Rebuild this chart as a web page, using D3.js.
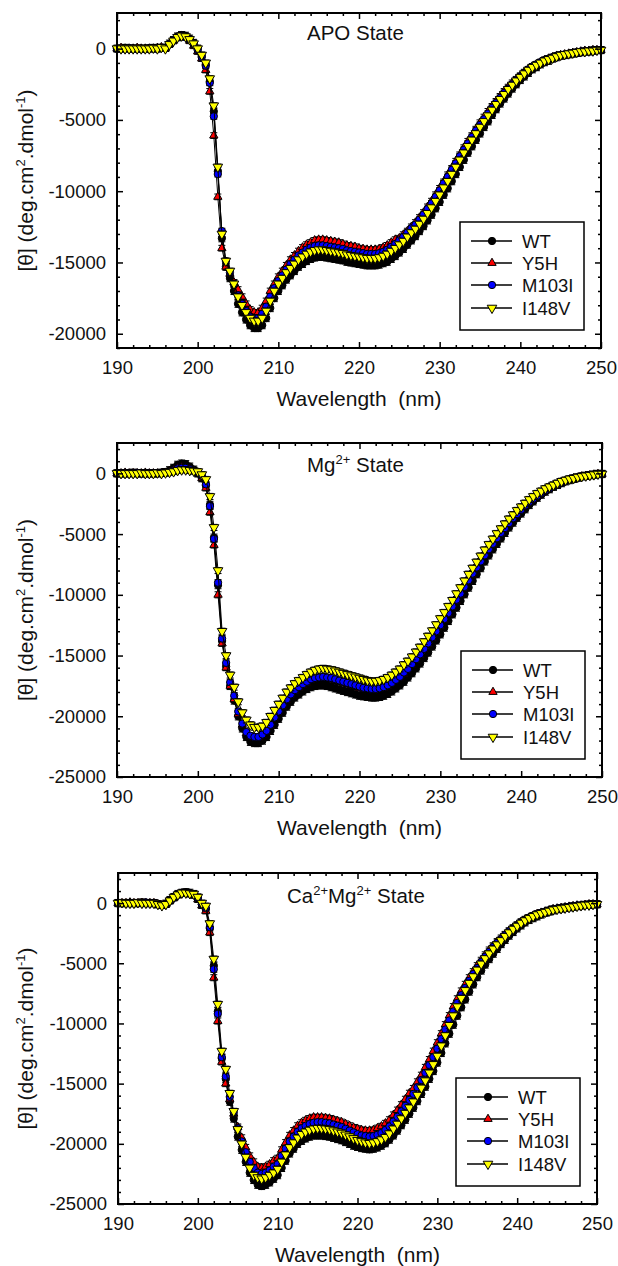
<!DOCTYPE html>
<html>
<head>
<meta charset="utf-8">
<script src="https://cdn.jsdelivr.net/npm/d3@7"></script>
<style>
  body { margin: 0; background: #fff; }
  svg { display: block; }
  text { font-family: "Liberation Sans", Arial, sans-serif; fill: #111; }
</style>
</head>
<body>
<div class="canvas"></div>
<script>
// wavelength grid of the CD scans (0.5 nm steps, 190-250 nm)
const wavelengths = d3.range(0, 121).map(i => 190 + i * 0.5);

const seriesNames = ['WT', 'Y5H', 'M103I', 'I148V'];
const seriesFills = ['#000000', '#ff0000', '#0000ff', '#ffff00'];

const xTicks = [190, 200, 210, 220, 230, 240, 250];
const yTicksApo = [0, -5000, -10000, -15000, -20000];
const yTicksMetal = [0, -5000, -10000, -15000, -20000, -25000];

// ---- APO state (deg.cm2.dmol-1) ----
const apoWT = [
  0,0,50,0,0,0,0,0,0,50,
  0,50,50,350,600,850,950,900,700,400,
  0,-500,-1100,-2300,-4400,-8600,-13300,-15300,-16100,-17000,
  -17900,-18500,-19000,-19400,-19600,-19600,-19400,-18900,-18200,-17500,
  -17000,-16600,-16200,-15900,-15600,-15300,-15100,-14900,-14750,-14650,
  -14600,-14600,-14650,-14700,-14750,-14800,-14850,-14950,-15000,-15050,
  -15100,-15150,-15200,-15200,-15200,-15150,-15050,-14950,-14750,-14550,
  -14300,-14050,-13750,-13450,-13150,-12800,-12450,-12050,-11650,-11200,
  -10750,-10250,-9800,-9300,-8800,-8300,-7800,-7300,-6850,-6400,
  -5950,-5500,-5100,-4650,-4250,-3850,-3500,-3150,-2800,-2500,
  -2200,-1950,-1700,-1450,-1300,-1100,-950,-850,-700,-600,
  -500,-450,-400,-350,-300,-250,-200,-200,-150,-100,
  -100];
const apoY5H = [
  0,50,0,0,0,50,0,0,0,0,
  50,100,0,300,550,750,850,800,550,200,
  -200,-700,-1500,-3000,-6100,-10400,-14000,-15300,-15800,-16400,
  -16900,-17400,-17900,-18300,-18500,-18500,-18200,-17700,-17000,-16500,
  -16000,-15600,-15200,-14800,-14500,-14200,-13950,-13750,-13600,-13450,
  -13400,-13400,-13450,-13500,-13550,-13600,-13700,-13800,-13850,-13900,
  -14000,-14050,-14100,-14100,-14100,-14050,-13950,-13800,-13600,-13400,
  -13300,-13050,-12800,-12500,-12200,-11850,-11500,-11100,-10700,-10250,
  -9800,-9350,-8850,-8400,-7900,-7450,-6950,-6500,-6100,-5650,
  -5200,-4800,-4400,-4050,-3700,-3350,-3000,-2700,-2400,-2150,
  -1900,-1650,-1450,-1250,-1100,-950,-800,-700,-600,-500,
  -450,-400,-350,-300,-250,-200,-150,-150,-100,-100,
  -100];
const apoM103I = [
  0,0,0,50,0,0,0,0,50,0,
  0,50,50,300,600,800,900,800,600,300,
  -100,-600,-1200,-2400,-4750,-8800,-12800,-14900,-15700,-16500,
  -17300,-17900,-18400,-18800,-18900,-18900,-18600,-18100,-17400,-16800,
  -16300,-15900,-15500,-15100,-14800,-14500,-14300,-14100,-13950,-13850,
  -13800,-13800,-13850,-13900,-13950,-14000,-14050,-14150,-14200,-14250,
  -14300,-14350,-14400,-14400,-14400,-14350,-14250,-14100,-13900,-13700,
  -13450,-13200,-12900,-12600,-12350,-12000,-11650,-11250,-10850,-10400,
  -9950,-9450,-9000,-8500,-8050,-7550,-7100,-6650,-6200,-5750,
  -5350,-4950,-4550,-4150,-3800,-3450,-3100,-2800,-2500,-2200,
  -1950,-1700,-1450,-1250,-1100,-950,-800,-700,-600,-500,
  -450,-400,-350,-300,-250,-200,-200,-150,-100,-100,
  -100];
const apoI148V = [
  0,0,0,0,0,0,0,0,0,50,
  0,100,0,300,550,800,900,850,650,350,
  0,-450,-1000,-2100,-4000,-8300,-13000,-14900,-15600,-16500,
  -17400,-18000,-18500,-18900,-19100,-19100,-18900,-18400,-17700,-17000,
  -16500,-16100,-15700,-15400,-15100,-14800,-14600,-14400,-14250,-14150,
  -14100,-14100,-14150,-14200,-14250,-14300,-14350,-14450,-14500,-14550,
  -14600,-14650,-14700,-14700,-14700,-14650,-14550,-14400,-14200,-14000,
  -13750,-13500,-13200,-12900,-12650,-12300,-11950,-11550,-11150,-10700,
  -10250,-9750,-9300,-8800,-8300,-7800,-7300,-6850,-6400,-5950,
  -5500,-5100,-4700,-4300,-3900,-3550,-3200,-2850,-2550,-2250,
  -2000,-1750,-1500,-1300,-1150,-1000,-850,-750,-650,-550,
  -450,-400,-350,-300,-250,-200,-200,-150,-150,-100,
  -100];

// ---- Mg2+ state ----
const mgWT = [
  0,0,0,0,50,0,0,0,0,0,
  0,50,100,250,450,700,800,750,550,300,
  0,-400,-1000,-2600,-5300,-9200,-13800,-15900,-17500,-18700,
  -20000,-21000,-21700,-22100,-22200,-22200,-22000,-21700,-21200,-20700,
  -20200,-19700,-19200,-18800,-18450,-18200,-17950,-17750,-17600,-17500,
  -17450,-17450,-17500,-17600,-17700,-17800,-17900,-18000,-18100,-18200,
  -18300,-18350,-18400,-18450,-18450,-18400,-18300,-18150,-17950,-17700,
  -17450,-17150,-16800,-16450,-16050,-15650,-15200,-14750,-14250,-13750,
  -13250,-12700,-12150,-11600,-11050,-10500,-9950,-9400,-8850,-8300,
  -7800,-7250,-6750,-6250,-5800,-5350,-4900,-4450,-4050,-3650,
  -3300,-2950,-2600,-2300,-2000,-1750,-1500,-1300,-1100,-950,
  -800,-650,-550,-450,-350,-250,-200,-150,-100,-50,
  -50];
const mgY5H = [
  0,0,50,0,0,0,0,50,0,0,
  0,0,50,150,300,450,500,450,350,200,
  0,-400,-1200,-3200,-5900,-10000,-14000,-16000,-17500,-18600,
  -19800,-20700,-21400,-21700,-21800,-21800,-21600,-21300,-20800,-20200,
  -19700,-19200,-18700,-18300,-17950,-17700,-17450,-17250,-17050,-16950,
  -16900,-16850,-16900,-16950,-17050,-17150,-17250,-17350,-17450,-17550,
  -17650,-17750,-17800,-17850,-17850,-17800,-17700,-17550,-17350,-17100,
  -16850,-16500,-16200,-15800,-15400,-15000,-14550,-14100,-13600,-13100,
  -12600,-12100,-11600,-11050,-10500,-10000,-9450,-8900,-8350,-7850,
  -7300,-6800,-6300,-5850,-5400,-4950,-4550,-4150,-3750,-3400,
  -3000,-2650,-2350,-2100,-1850,-1600,-1400,-1200,-1050,-900,
  -750,-600,-500,-400,-350,-250,-200,-150,-100,-50,
  -50];
const mgM103I = [
  0,0,0,0,0,50,0,0,0,0,
  0,50,50,150,250,400,450,450,350,250,
  100,-200,-900,-2700,-5400,-9000,-13600,-15600,-17200,-18300,
  -19600,-20600,-21300,-21600,-21700,-21700,-21500,-21200,-20700,-20100,
  -19600,-19100,-18600,-18200,-17850,-17600,-17350,-17150,-16950,-16850,
  -16800,-16750,-16800,-16850,-16950,-17050,-17150,-17250,-17350,-17450,
  -17550,-17650,-17700,-17750,-17750,-17700,-17600,-17450,-17250,-17000,
  -16750,-16400,-16100,-15700,-15300,-14900,-14450,-14000,-13500,-13000,
  -12500,-12000,-11500,-10950,-10400,-9900,-9350,-8800,-8250,-7750,
  -7250,-6750,-6250,-5800,-5350,-4900,-4500,-4100,-3700,-3350,
  -3000,-2650,-2350,-2100,-1850,-1600,-1400,-1200,-1050,-900,
  -750,-600,-500,-400,-350,-250,-200,-150,-100,-50,
  -50];
const mgI148V = [
  0,0,0,0,0,0,50,0,0,0,
  50,0,50,100,150,250,300,300,250,200,
  150,-100,-500,-1900,-4450,-8000,-13000,-15000,-16600,-17600,
  -18800,-19700,-20300,-20700,-20900,-20900,-20800,-20500,-20000,-19500,
  -19000,-18500,-18000,-17650,-17300,-17050,-16800,-16550,-16350,-16200,
  -16100,-16050,-16100,-16150,-16250,-16350,-16450,-16550,-16650,-16750,
  -16850,-16950,-17050,-17100,-17100,-17050,-16950,-16800,-16600,-16350,
  -16100,-15750,-15450,-15100,-14700,-14300,-13850,-13400,-12950,-12450,
  -11950,-11450,-10950,-10450,-9900,-9400,-8850,-8300,-7800,-7300,
  -6800,-6300,-5850,-5400,-4950,-4550,-4150,-3750,-3400,-3050,
  -2750,-2450,-2150,-1900,-1650,-1450,-1250,-1100,-950,-800,
  -650,-550,-450,-400,-300,-250,-200,-150,-100,-50,
  -50];

// ---- Ca2+Mg2+ state ----
const caWT = [
  0,0,0,0,0,0,50,0,0,0,
  -100,-150,-50,250,500,750,850,900,850,750,
  450,-100,-500,-2100,-5200,-9000,-12900,-14600,-16500,-17900,
  -19400,-20500,-21500,-22400,-23000,-23400,-23500,-23400,-23200,-22900,
  -22600,-22000,-21400,-20800,-20400,-20000,-19750,-19550,-19400,-19300,
  -19300,-19300,-19350,-19400,-19500,-19600,-19700,-19850,-20000,-20150,
  -20250,-20350,-20400,-20450,-20400,-20300,-20150,-19950,-19650,-19300,
  -18900,-18450,-18000,-17500,-17000,-16450,-15850,-15250,-14600,-13950,
  -13250,-12450,-11650,-10850,-10100,-9350,-8650,-8000,-7350,-6750,
  -6150,-5600,-5100,-4650,-4200,-3800,-3400,-3050,-2700,-2400,
  -2100,-1850,-1600,-1400,-1250,-1100,-950,-800,-700,-600,
  -500,-450,-400,-350,-300,-250,-200,-150,-150,-100,
  -100];
const caY5H = [
  0,0,0,50,0,0,0,0,0,0,
  -100,-200,-100,200,450,700,800,800,750,650,
  300,-200,-650,-2450,-6200,-9800,-13200,-15000,-16300,-17500,
  -18600,-19500,-20300,-21000,-21500,-21900,-22000,-21900,-21700,-21400,
  -21200,-20500,-19900,-19300,-18900,-18500,-18250,-18050,-17900,-17800,
  -17800,-17800,-17850,-17900,-18000,-18100,-18200,-18350,-18500,-18650,
  -18750,-18850,-18900,-18900,-18850,-18700,-18550,-18300,-18000,-17600,
  -17200,-16750,-16300,-15800,-15400,-14850,-14300,-13650,-13000,-12300,
  -11600,-10850,-10100,-9350,-8600,-7950,-7300,-6750,-6200,-5700,
  -5200,-4750,-4300,-3900,-3550,-3200,-2900,-2600,-2300,-2050,
  -1800,-1550,-1350,-1200,-1050,-900,-800,-700,-600,-500,
  -450,-400,-350,-300,-250,-200,-200,-150,-100,-100,
  -100];
const caM103I = [
  0,0,0,0,0,0,0,50,0,0,
  -100,-150,-100,200,450,700,800,850,800,700,
  400,-100,-400,-2000,-5500,-9200,-12800,-14400,-16100,-17400,
  -18700,-19800,-20700,-21500,-22000,-22400,-22500,-22400,-22200,-21900,
  -21700,-21000,-20400,-19800,-19400,-19000,-18700,-18500,-18350,-18250,
  -18200,-18200,-18250,-18300,-18400,-18500,-18600,-18750,-18900,-19050,
  -19200,-19300,-19350,-19400,-19350,-19250,-19100,-18850,-18550,-18150,
  -17750,-17300,-16850,-16350,-15850,-15300,-14700,-14100,-13450,-12800,
  -12100,-11300,-10500,-9750,-9000,-8300,-7650,-7050,-6450,-5900,
  -5400,-4900,-4450,-4050,-3650,-3300,-3000,-2650,-2350,-2100,
  -1850,-1600,-1400,-1200,-1050,-900,-800,-700,-600,-500,
  -450,-400,-350,-300,-250,-200,-200,-150,-100,-100,
  -100];
const caI148V = [
  0,50,0,0,0,50,0,0,0,0,
  -100,-200,-100,200,500,700,850,850,800,750,
  500,0,-250,-1700,-4650,-8400,-12300,-13800,-15800,-17300,
  -18800,-20000,-21100,-22000,-22600,-22800,-22900,-22800,-22600,-22400,
  -22100,-21500,-20900,-20300,-19900,-19500,-19200,-19000,-18850,-18750,
  -18700,-18700,-18750,-18800,-18900,-19000,-19100,-19250,-19400,-19550,
  -19700,-19800,-19900,-19950,-19900,-19800,-19650,-19450,-19150,-18750,
  -18350,-17900,-17450,-17000,-16500,-15950,-15350,-14750,-14100,-13400,
  -12700,-11850,-11000,-10150,-9350,-8600,-7900,-7250,-6650,-6100,
  -5550,-5050,-4600,-4200,-3800,-3450,-3100,-2750,-2450,-2150,
  -1900,-1650,-1450,-1250,-1100,-950,-850,-750,-650,-550,
  -500,-450,-400,-350,-300,-250,-200,-150,-150,-100,
  -100];

// error bar half heights (SD), per series WT, Y5H, M103I, I148V
const sdApo = [250, 200, 200, 200];
const sdMg = [300, 250, 250, 250];
const sdCa = [300, 250, 250, 250];

// panel layout
const panels = [
  { values: [apoWT, apoY5H, apoM103I, apoI148V], sd: sdApo, yMin: -21000, yTicks: yTicksApo,
    left: 117, right: 601, top: 13, bottom: 348, titleX: 307, titleY: 40,
    title: [['APO State', false]] },
  { values: [mgWT, mgY5H, mgM103I, mgI148V], sd: sdMg, yMin: -25000, yTicks: yTicksMetal,
    left: 117, right: 602, top: 443, bottom: 777, titleX: 307, titleY: 472,
    title: [['Mg', false], ['2+', true], ['\u00a0State', false]] },
  { values: [caWT, caY5H, caM103I, caI148V], sd: sdCa, yMin: -25000, yTicks: yTicksMetal,
    left: 118, right: 597, top: 873, bottom: 1204, titleX: 287, titleY: 903,
    title: [['Ca', false], ['2+', true], ['Mg', false], ['2+', true], ['\u00a0State', false]] }
];

const symbolTypes = [d3.symbolCircle, d3.symbolTriangle, d3.symbolCircle, d3.symbolTriangle];
const symbolSizes = [42, 30, 42, 40];
const symbolRot = [0, 0, 0, 180];

const svg = d3.select('.canvas')
    .append('svg')
    .attr('width', 618)
    .attr('height', 1266);

panels.forEach(drawPanel);

function writeRich(textSel, parts, supSize, supShift) {
    let shifted = false;
    parts.forEach(([t, sup]) => {
        const ts = textSel.append('tspan').text(t);
        if (sup && !shifted) { ts.attr('dy', -supShift).attr('font-size', supSize); shifted = true; }
        else if (sup) { ts.attr('font-size', supSize); }
        else if (shifted) { ts.attr('dy', supShift); shifted = false; }
    });
}

function drawPanel(p) {
    const x = d3.scaleLinear().domain([190, 250]).range([p.left, p.right]);
    const y = d3.scaleLinear().domain([p.yMin, 2500]).range([p.bottom, p.top]);
    const g = svg.append('g');

    // curves: line, error bars, markers for each series
    p.values.forEach((vals, s) => {
        const pts = wavelengths.map((w, i) => ({ w: w, v: vals[i] }));
        const sd = p.sd[s];
        g.append('path')
            .datum(pts)
            .attr('d', d3.line().x(d => x(d.w)).y(d => y(d.v)))
            .attr('fill', 'none')
            .attr('stroke', '#000')
            .attr('stroke-width', 1);
        g.append('g')
            .attr('stroke', '#000')
            .attr('stroke-width', 1)
            .selectAll('path')
            .data(pts)
            .join('path')
            .attr('d', d => {
                const cx = x(d.w), y1 = y(d.v + sd), y2 = y(d.v - sd);
                return `M${cx},${y1}V${y2}M${cx - 3.5},${y1}H${cx + 3.5}M${cx - 3.5},${y2}H${cx + 3.5}`;
            });
        const sym = d3.symbol().type(symbolTypes[s]).size(symbolSizes[s]);
        g.append('g')
            .selectAll('path')
            .data(pts)
            .join('path')
            .attr('transform', d => `translate(${x(d.w)},${y(d.v)}) rotate(${symbolRot[s]})`)
            .attr('d', sym)
            .attr('fill', seriesFills[s])
            .attr('stroke', '#000')
            .attr('stroke-width', 1)
            .attr('stroke-linejoin', 'round');
    });

    // frame + ticks (inward on all four sides)
    const xMinor = d3.range(190, 251, 2).filter(v => v % 10 !== 0);
    const yMinor = d3.range(2000, p.yMin - 1, -1000).filter(v => v % 5000 !== 0);
    const axes = [
        [d3.axisLeft(y).tickValues(p.yTicks).tickSize(-6).tickPadding(11).tickFormat(d => String(d)), `translate(${p.left},0)`],
        [d3.axisLeft(y).tickValues(yMinor).tickSize(-3).tickFormat(''), `translate(${p.left},0)`],
        [d3.axisRight(y).tickValues(p.yTicks).tickSize(-6).tickFormat(''), `translate(${p.right},0)`],
        [d3.axisRight(y).tickValues(yMinor).tickSize(-3).tickFormat(''), `translate(${p.right},0)`],
        [d3.axisBottom(x).tickValues(xTicks).tickSize(-6).tickPadding(13), `translate(0,${p.bottom})`],
        [d3.axisBottom(x).tickValues(xMinor).tickSize(-3).tickFormat(''), `translate(0,${p.bottom})`],
        [d3.axisTop(x).tickValues(xTicks).tickSize(-6).tickFormat(''), `translate(0,${p.top})`],
        [d3.axisTop(x).tickValues(xMinor).tickSize(-3).tickFormat(''), `translate(0,${p.top})`]
    ];
    axes.forEach(([ax, tr]) => {
        const a = g.append('g')
            .attr('transform', tr)
            .call(ax)
            .attr('font-size', 18.5)
            .attr('font-family', '"Liberation Sans", Arial, sans-serif');
        a.select('.domain').remove();
        a.selectAll('line').attr('stroke', '#000').attr('stroke-width', 1.5);
        a.selectAll('text').attr('fill', '#111');
    });
    g.append('rect')
        .attr('x', p.left).attr('y', p.top)
        .attr('width', p.right - p.left).attr('height', p.bottom - p.top)
        .attr('fill', 'none').attr('stroke', '#000').attr('stroke-width', 2);

    // title inside plot
    const t = g.append('text')
        .attr('x', p.titleX).attr('y', p.titleY)
        .attr('font-size', 20.5);
    writeRich(t, p.title, 13, 8);

    // axis titles
    g.append('text')
        .attr('x', (p.left + p.right) / 2)
        .attr('y', p.bottom + 58)
        .attr('text-anchor', 'middle')
        .attr('font-size', 21)
        .text('Wavelength\u00a0 (nm)');
    const yl = g.append('text')
        .attr('transform', `translate(33,${(p.top + p.bottom) / 2}) rotate(-90)`)
        .attr('text-anchor', 'middle')
        .attr('font-size', 21);
    writeRich(yl, [['[\u03b8] (deg.cm', false], ['2', true], ['.dmol', false], ['-1', true], [')', false]], 13, 8);

    // legend
    const bw = 124, bh = 108;
    const bx = p.right - 17 - bw, by = p.bottom - 18 - bh;
    const lg = g.append('g').attr('transform', `translate(${bx},${by})`);
    lg.append('rect')
        .attr('width', bw).attr('height', bh)
        .attr('fill', '#fff').attr('stroke', '#000').attr('stroke-width', 1.5);
    const rowY = [19, 41, 63, 86];
    seriesNames.forEach((name, s) => {
        const ry = rowY[s];
        lg.append('line')
            .attr('x1', 11).attr('x2', 52).attr('y1', ry).attr('y2', ry)
            .attr('stroke', '#000').attr('stroke-width', 1.5);
        lg.append('path')
            .attr('transform', `translate(32,${ry}) rotate(${symbolRot[s]})`)
            .attr('d', d3.symbol().type(symbolTypes[s]).size(symbolSizes[s]))
            .attr('fill', seriesFills[s])
            .attr('stroke', '#000')
            .attr('stroke-width', 1)
            .attr('stroke-linejoin', 'round');
        lg.append('text')
            .attr('x', 62).attr('y', ry + 6.5)
            .attr('font-size', 18.5)
            .text(name);
    });
}
</script>
</body>
</html>
